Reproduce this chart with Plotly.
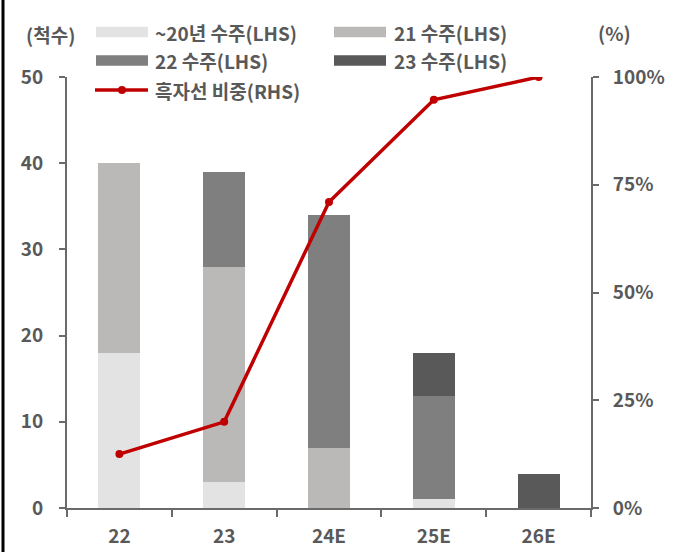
import plotly.graph_objects as go

# Vessel deliveries by order year (ships) and share of scrubber-fitted vessels (%)
categories = ["22", "23", "24E", "25E", "26E"]
orders_pre20 = [18, 3, None, 1, None]
orders_21 = [22, 25, 7, None, None]
orders_22 = [None, 11, 27, 12, None]
orders_23 = [None, None, None, 5, 4]
black_share = [12.5, 20, 71, 94.7, 100]

share_ticks = [0, 25, 50, 75, 100]
share_tick_labels = ["0%", "25%", "50%", "75%", "100%"]

bar_names = ["~20년 수주(LHS)", "21 수주(LHS)", "22 수주(LHS)", "23 수주(LHS)"]
line_name = "흑자선 비중(RHS)"
bar_colors = ["#e3e3e3", "#bab9b8", "#7f7f7f", "#595959"]
line_color = "#c00000"
text_color = "#595959"
FONT = "Noto Sans CJK KR"

W, H = 686, 552
ML, MR, MT, MB = 67, 95, 77, 44
PW, PH = W - ML - MR, H - MT - MB


def px(x):
    return (x - ML) / PW


def py(y):
    return (H - MB - y) / PH


fig = go.Figure()
for name, vals, col in zip(bar_names, [orders_pre20, orders_21, orders_22, orders_23], bar_colors):
    fig.add_trace(go.Bar(x=categories, y=vals, name=name, marker=dict(color=col, line=dict(width=0)),
                         width=0.4, showlegend=False))

fig.add_trace(go.Scatter(x=categories, y=black_share, name=line_name, yaxis="y2", mode="lines+markers",
                         line=dict(color=line_color, width=3.5), marker=dict(size=8, color=line_color),
                         showlegend=False))

axis_font = dict(family=FONT, size=19, color=text_color, weight="bold")
axis_line = dict(showline=True, linecolor="#6a6a6a", linewidth=2, ticks="outside", tickcolor="#6a6a6a",
                 tickwidth=2, showgrid=False, zeroline=False, automargin=False)

fig.update_layout(
    width=W, height=H, margin=dict(l=ML, r=MR, t=MT, b=MB),
    paper_bgcolor="white", plot_bgcolor="white",
    barmode="stack", showlegend=False,
    font=axis_font,
    xaxis=dict(**axis_line, ticklen=7, tickson="boundaries", tickfont=axis_font, ticklabelstandoff=10),
    yaxis=dict(**axis_line, range=[0, 50], dtick=10, ticklen=6, tickfont=axis_font, ticklabelstandoff=12),
    yaxis2=dict(**axis_line, range=[0, 100], tickmode="array", tickvals=share_ticks, ticktext=share_tick_labels,
                ticklen=6, overlaying="y", side="right", tickfont=axis_font, ticklabelstandoff=10),
)

# Legend drawn as swatches + labels in two columns
shapes = []
annotations = []
legend_cells = [(96, 153, 32), (334, 392, 32), (96, 153, 60.5), (334, 392, 60.5)]
for (sx, tx, cy), name, col in zip(legend_cells, bar_names, bar_colors):
    shapes.append(dict(type="rect", xref="paper", yref="paper", x0=px(sx), x1=px(sx + 52),
                       y0=py(cy + 5.3), y1=py(cy - 5.3), fillcolor=col, line=dict(width=0)))
    annotations.append(dict(text=name, xref="paper", yref="paper", x=px(tx), y=py(cy),
                            xanchor="left", yanchor="middle", showarrow=False, font=axis_font))
shapes.append(dict(type="line", xref="paper", yref="paper", x0=px(95), x1=px(148), y0=py(90), y1=py(90),
                   line=dict(color=line_color, width=3.5)))
shapes.append(dict(type="circle", xref="paper", yref="paper", x0=px(118), x1=px(126), y0=py(94), y1=py(86),
                   fillcolor=line_color, line=dict(width=0)))
annotations.append(dict(text=line_name, xref="paper", yref="paper", x=px(153), y=py(90),
                        xanchor="left", yanchor="middle", showarrow=False, font=axis_font))

# Axis unit labels
annotations.append(dict(text="(척수)", xref="paper", yref="paper", x=px(50), y=py(34),
                        xanchor="center", yanchor="middle", showarrow=False, font=axis_font))
annotations.append(dict(text="(%)", xref="paper", yref="paper", x=px(614), y=py(32),
                        xanchor="center", yanchor="middle", showarrow=False, font=axis_font))

# Left frame edge
shapes.append(dict(type="line", xref="paper", yref="paper", x0=px(3), x1=px(3), y0=py(0), y1=py(H),
                   line=dict(color="black", width=3)))

fig.update_layout(shapes=shapes, annotations=annotations)
fig.write_html("out.html")
